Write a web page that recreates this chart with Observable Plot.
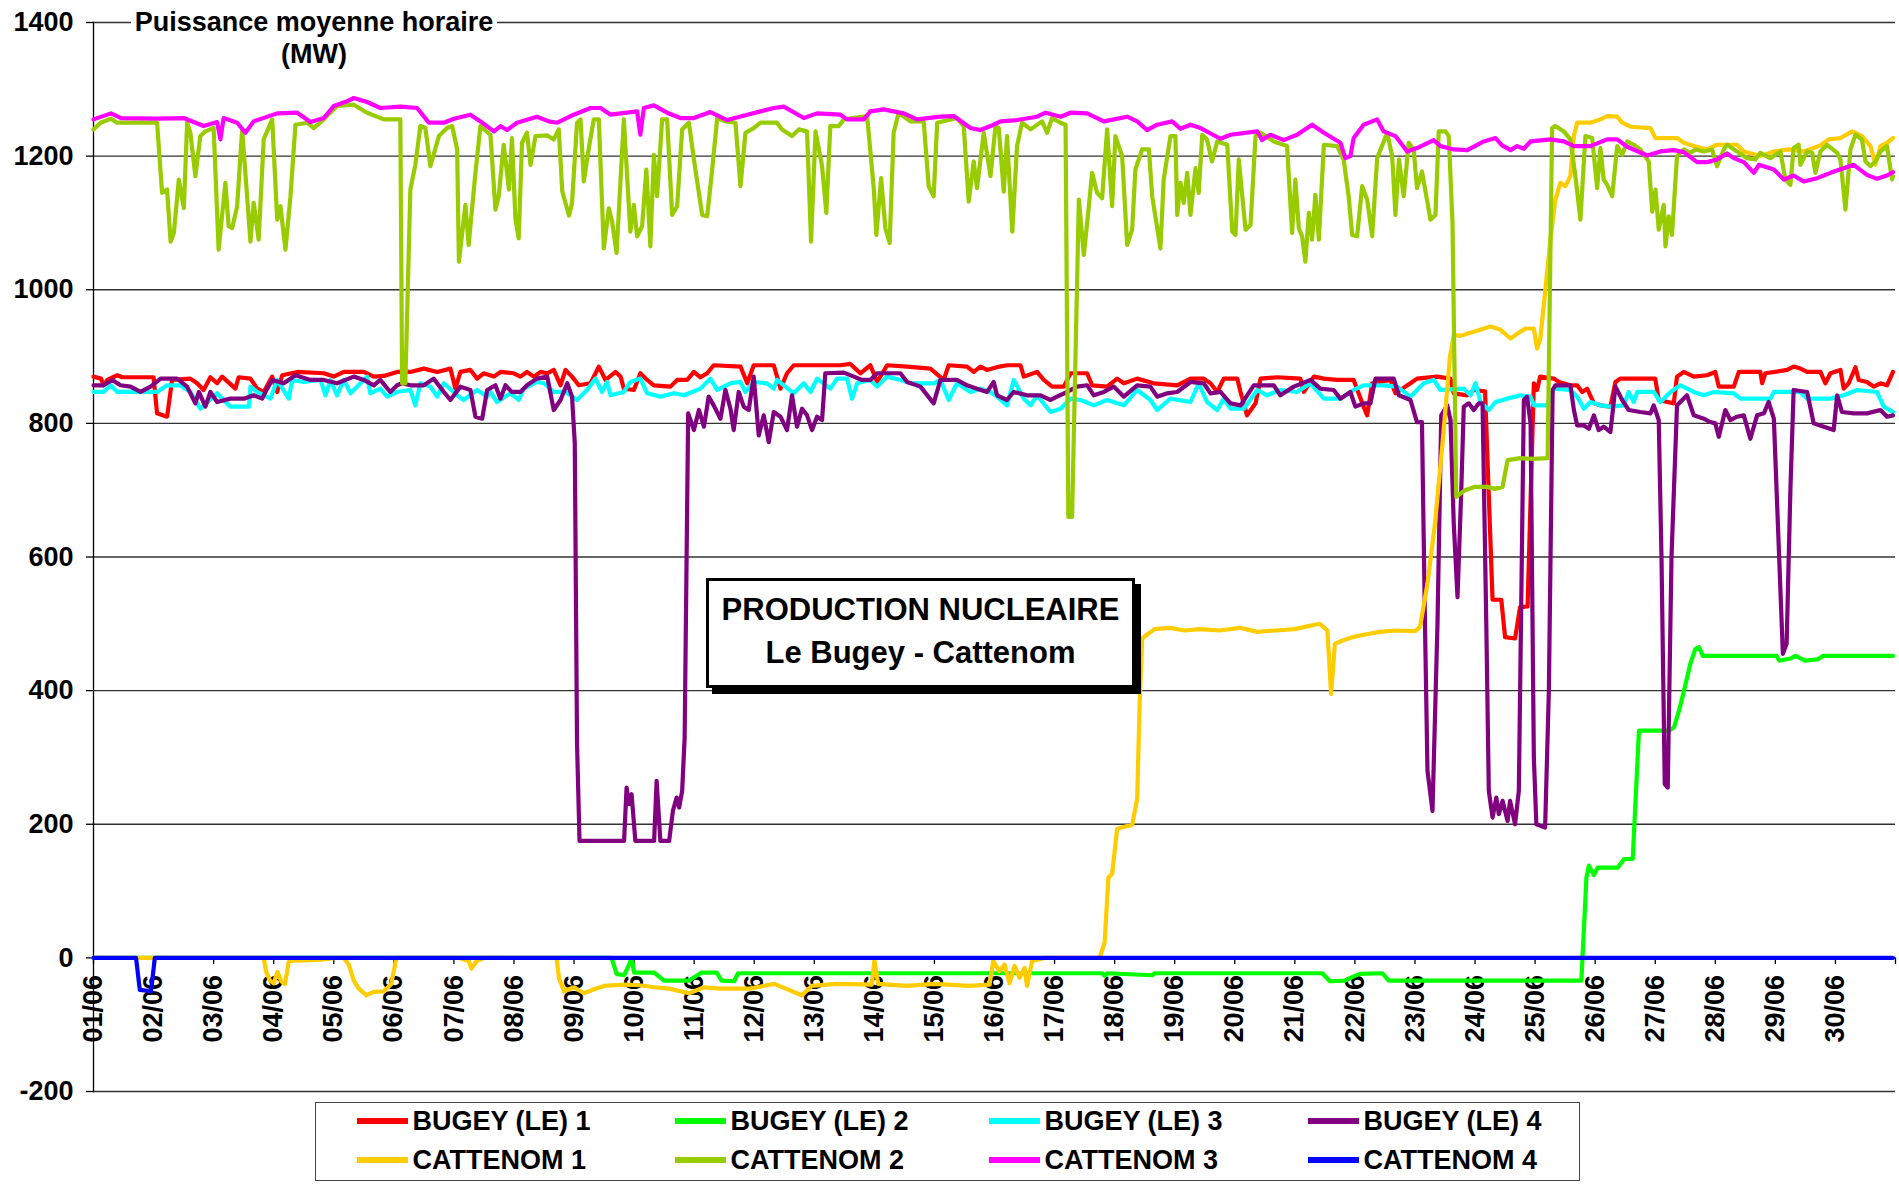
<!DOCTYPE html>
<html>
<head>
<meta charset="utf-8">
<script src="https://cdn.jsdelivr.net/npm/d3@7"></script>
<script src="https://cdn.jsdelivr.net/npm/@observablehq/plot@0.6"></script>
<style>
  html, body { margin: 0; padding: 0; background: #fff; overflow: hidden; }
  #wrap { position: relative; width: 1899px; height: 1187px; font-family: "Liberation Sans", Arial, sans-serif; font-weight: bold; color: #000; }
  #chart { position: absolute; left: 0; top: 0; }
  #title { position: absolute; left: 131px; top: 6px; width: 366px; text-align: center; background: #fff; font-size: 27px; line-height: 32px; }
  #note { position: absolute; left: 706px; top: 578px; width: 429px; height: 110px; box-sizing: border-box; border: 3px solid #000; box-shadow: 6px 6px 0 #000; background: #fff; text-align: center; font-size: 31px; line-height: 43px; padding-top: 7px; }
  #legend { position: absolute; left: 315px; top: 1102px; width: 1265px; height: 79px; box-sizing: border-box; border: 1.5px solid #444; background: #fff; }
  .sw { position: absolute; width: 51px; height: 6px; }
  .lb { position: absolute; font-size: 27px; line-height: 30px; white-space: nowrap; }
</style>
</head>
<body>
<div id="wrap">
  <div id="chart"></div>
  <div id="title">Puissance moyenne horaire<br>(MW)</div>
  <div id="note">PRODUCTION NUCLEAIRE<br>Le Bugey - Cattenom</div>
  <div id="legend"></div>
</div>
<script>
// ---- Data: [hour since 01/06 00:00, MW] ----
const dayLabels = ["01/06","02/06","03/06","04/06","05/06","06/06","07/06","08/06","09/06","10/06","11/06","12/06","13/06","14/06","15/06","16/06","17/06","18/06","19/06","20/06","21/06","22/06","23/06","24/06","25/06","26/06","27/06","28/06","29/06","30/06"];
const yTicks = [-200, 0, 200, 400, 600, 800, 1000, 1200, 1400];

const seriesNames = ["BUGEY (LE) 1","BUGEY (LE) 2","BUGEY (LE) 3","BUGEY (LE) 4","CATTENOM 1","CATTENOM 2","CATTENOM 3","CATTENOM 4"];
const seriesColors = ["#FF0000","#00FF00","#00FFFF","#800080","#FFCC00","#99CC00","#FF00FF","#0000FF"];

const bugey1 = [[0,870],[3,867],[4,857],[5.5,865],[9.5,872],[11.5,869],[24,869],[25.4,815],[29.4,810],[31.4,865],[38.7,867],[41.4,860],[44,850],[46.7,869],[49.4,860],[51.4,870],[56.7,852],[58,869],[62.7,867],[65.4,852],[68,847],[71.4,870],[73.4,847],[75.4,872],[81.4,877],[92,875],[96,870],[100,877],[108,877],[112,870],[116,871],[121.3,877],[126.6,877],[132,882],[137.3,877],[142.6,882],[144.6,852],[146.6,877],[150.6,880],[153.3,867],[155.9,875],[160,870],[162.6,877],[167.9,875],[170.6,870],[173.2,877],[175.9,870],[178.6,877],[181.3,875],[183.9,880],[186.6,857],[188.6,880],[191.2,870],[193.9,857],[198.6,860],[201.9,885],[204.6,865],[208.6,877],[210.6,870],[211.9,852],[215.9,850],[218.5,875],[221.2,865],[223.9,857],[230.5,855],[233.2,865],[237.2,865],[239.9,877],[242.5,869],[245.2,875],[247.8,887],[258.5,885],[261.2,860],[263.8,887],[271.8,887],[274.5,852],[277.1,875],[279.8,887],[298.4,887],[302.4,889],[306.4,875],[310.4,887],[313.1,862],[317.1,887],[325.1,885],[334.4,882],[339.7,865],[341.7,887],[349,885],[351.7,877],[354.4,885],[357,880],[362,885],[365,887],[370.4,887],[371.7,870],[377,877],[379.7,865],[383,855],[387.7,855],[390.4,875],[397,875],[399,857],[405,855],[409,867],[411.7,860],[417,867],[423.6,860],[433,857],[438.3,867],[443.6,867],[446.3,860],[449,847],[451.6,867],[457,867],[458.3,847],[460.9,812],[464.3,830],[466.3,867],[472.9,869],[482.2,867],[483.6,847],[487.6,870],[491.6,867],[496.9,865],[503.5,865],[507.5,825],[508.9,812],[510.9,860],[518.2,865],[520.2,845],[526.2,860],[528.8,867],[536.8,870],[542.2,867],[543.5,845],[548.9,842],[551.5,850],[556,848],[559,536],[562.5,536],[564,480],[568,478],[570,525],[573,526],[575.5,860],[576.8,850],[578,870],[583.5,867],[585.5,862],[590.1,857],[592.8,857],[594.8,847],[596.8,852],[599.5,830],[602.1,827],[606.1,825],[608.1,862],[610.1,867],[624,867],[625.4,835],[631.4,830],[632.7,870],[635.4,877],[639.4,870],[644.7,872],[648,877],[649.4,855],[655.4,855],[657.4,877],[666,877],[666.7,860],[668,875],[676.7,880],[679.3,885],[682,882],[684.7,877],[690,877],[692,860],[694,875],[698,880],[699.3,852],[701.3,860],[704,884],[705.3,865],[708.6,862],[711.3,855],[714,860],[716.6,857],[719,877]];

const bugey2 = [[0,0],[207,0],[209,-24],[212,-26],[214,-10],[215,0],[216,-22],[224,-22],[228,-34],[238,-34],[240,-29],[243,-22],[249,-22],[251,-34],[256,-35],[257.5,-23],[403,-23],[404,-27],[405,-23],[423,-26],[424,-23],[491,-23],[494,-35],[500,-34],[504,-27],[506,-24],[515,-23],[517.5,-34],[594.5,-34],[596.5,120],[597.5,138],[599.5,124],[601,135],[609,135],[611.6,148],[615,148],[617.5,340],[629.5,340],[631.5,345],[633.5,370],[635.5,400],[638,440],[640,462],[641.5,465],[643,452],[672.5,452],[673.5,445],[678,448],[680,452],[684,445],[689,447],[691,452],[719,452]];

const bugey3 = [[0,847],[4,847],[6.8,857],[9.5,847],[25.4,847],[29.4,857],[34.7,857],[38.7,847],[42.7,822],[49.4,845],[54.7,825],[62.1,825],[62.7,855],[65.4,847],[70.7,837],[73.4,865],[78,837],[79.4,865],[84,862],[90.7,865],[92.7,842],[94.7,865],[97.3,842],[100,865],[102.7,845],[109.3,870],[110.6,845],[114.6,852],[117.3,840],[121.3,847],[126.6,850],[128.6,827],[130.6,860],[134.6,855],[137.3,840],[140,860],[145.3,842],[147.9,835],[153.3,850],[157.3,840],[158.6,847],[161.2,832],[166.6,845],[169.9,835],[171.9,852],[177.2,862],[180,860],[183.9,847],[188.6,847],[193.2,835],[197.2,850],[200.6,867],[203.2,847],[205.2,862],[206.6,842],[211.9,847],[214.5,862],[218.5,867],[221.2,845],[226.5,840],[231.9,845],[235.9,842],[242.5,852],[246.5,867],[249.2,850],[254.5,860],[258.5,862],[260.5,847],[263.8,862],[269.1,860],[271.8,852],[273.1,865],[279.8,845],[283.8,860],[286.5,847],[289.1,867],[294.4,852],[297.1,867],[301.1,867],[303.1,837],[305.1,860],[310.4,865],[313.1,855],[317.1,870],[322.4,865],[326.4,860],[335.7,860],[338.4,865],[341.7,835],[345,860],[350.4,847],[354.4,852],[358.4,847],[361,840],[362.5,835],[365,827],[367.7,865],[371.7,837],[374.4,827],[377,842],[382.4,817],[386.4,822],[390.4,837],[394.4,835],[399.7,827],[405,835],[411.7,827],[417,850],[422.3,835],[425,820],[430.3,837],[438.3,832],[441.6,860],[444.9,832],[449,820],[451.6,837],[454.3,822],[459.6,822],[465,850],[468.9,842],[474.2,850],[480.9,847],[486.2,860],[491.6,837],[498.2,837],[503.5,850],[507.5,857],[515.5,857],[520.9,855],[526.2,840],[531.5,860],[535.5,865],[538.2,850],[547.5,852],[550.2,842],[552.2,860],[554.2,832],[557.5,820],[560.2,832],[564.8,837],[570.2,842],[574.2,840],[575.5,827],[580.8,827],[583.5,852],[590.1,850],[592.8,840],[595.5,822],[598.1,832],[602.1,827],[606.1,825],[611.4,827],[613.4,847],[615.4,832],[616.8,847],[623.4,847],[626.1,832],[630.1,847],[634.1,857],[639.4,847],[643.4,842],[647.4,847],[655.4,845],[658.1,837],[670,837],[671.4,847],[682,847],[684.7,837],[694,837],[699.3,842],[704.7,850],[712.6,847],[715.3,825],[719,817]];

const bugey4 = [[0,857],[4,857],[7.5,865],[10.8,857],[14.8,855],[18.8,847],[22.8,855],[26.8,867],[33.4,867],[37.4,855],[40.7,830],[42.1,847],[44.7,825],[46.7,847],[49.4,832],[54.7,837],[60.1,837],[64,842],[67.4,837],[69.4,852],[71.4,865],[76,860],[80.7,872],[86.7,865],[92,865],[97.3,860],[104,870],[108,865],[112,857],[114.6,865],[118.6,847],[121.3,857],[123.3,860],[126.6,857],[132,857],[135.9,867],[140,847],[142.6,835],[146.6,855],[150.6,850],[152.6,810],[155.3,807],[157.3,850],[160.6,857],[162.6,837],[164.6,857],[167.2,847],[170.6,847],[173.2,857],[177.2,867],[181.3,870],[183.9,820],[186.6,835],[189.3,860],[191.2,840],[192.3,770],[193.2,320],[194.2,175],[212,175],[213,255],[214,230],[215,245],[216.5,175],[224,175],[225,265],[226.5,175],[230,175],[231.5,220],[233,240],[234,225],[235.2,250],[236.2,330],[237.6,815],[239.9,790],[241.9,820],[243.9,795],[245.8,840],[247.8,827],[250.5,807],[252.5,850],[254.5,822],[255.8,790],[257.8,847],[259.8,825],[261.8,820],[263.8,870],[265.8,782],[267.8,812],[269.8,772],[271.8,817],[274.5,810],[277.1,790],[279.1,842],[281.1,795],[283.1,822],[285.1,812],[287.1,790],[289.1,810],[291.1,805],[292.4,875],[299.8,876],[303.8,870],[307.1,865],[310.4,865],[313.1,875],[322.4,875],[325.1,862],[330.4,855],[335.7,830],[338.4,865],[345,865],[349,857],[353,852],[357,847],[359.7,862],[361,842],[365,835],[367.7,847],[373,842],[378.4,842],[382.4,835],[385,840],[389,847],[393,855],[397,857],[399.7,842],[403.7,847],[407.7,855],[411.7,840],[417,857],[422.3,855],[425,840],[429,845],[433,847],[438.3,862],[443.6,860],[446.3,845],[450.3,847],[454.3,830],[458.3,827],[463.6,857],[471.6,857],[474.2,842],[479.6,855],[486.2,865],[490.2,852],[495.5,850],[498.2,837],[502.2,847],[504.2,825],[507.5,830],[510.2,830],[512.2,867],[519.5,867],[521.6,842],[526.2,835],[528.8,802],[530.8,802],[532,500],[533,280],[535,220],[537,500],[538.5,812],[540.9,827],[542.2,805],[543.5,650],[545,540],[546.5,700],[547.5,825],[549.5,830],[551.5,820],[553.5,830],[555,830],[556.5,500],[557.5,250],[559,210],[560.5,240],[561.5,215],[563,235],[565,205],[566,235],[568,200],[569.5,250],[571.5,835],[572.8,840],[574.2,800],[575.5,300],[576.5,200],[580,195],[581.5,400],[583,850],[584.1,857],[590.1,857],[591.5,820],[592.8,797],[595.5,797],[597.5,792],[599.5,812],[601.4,790],[603.4,795],[606.1,787],[608.1,855],[610.8,835],[613.4,820],[618.1,817],[622.1,815],[623.4,827],[625.4,805],[626.5,600],[627.8,260],[629,255],[630.5,600],[632.7,827],[636.7,842],[639.4,812],[643.4,807],[646,802],[648,800],[649.4,780],[652,820],[654,805],[656.7,810],[659.4,812],[662,777],[664.7,812],[667.4,815],[669.3,832],[671.4,807],[673,650],[675,455],[676.5,470],[678,700],[679.3,850],[684.7,847],[687.3,800],[691.4,795],[695.3,790],[696.7,842],[698.6,817],[703.3,815],[708.6,815],[714,820],[716.6,810],[719,812]];

const cattenom1 = [[0,0],[68,0],[69,-21],[70.5,-34],[72,-38],[73.5,-21],[75,-35],[76.5,-39],[78,-6],[80,-4],[90,-3],[97,0],[100,0],[102,-10],[104,-34],[106,-46],[109,-56],[112,-51],[116,-50],[119,-39],[121,0],[146,0],[150,-5],[151,-16],[153,-5],[156,0],[185,0],[186,-30],[188,-50],[192,-44],[196,-53],[200,-47],[204,-42],[212,-40],[218,-41],[224,-44],[230,-46],[238,-53],[244,-44],[250,-46],[262,-46],[272,-39],[283,-56],[287,-42],[297,-39],[311,-40],[312,-4],[313.5,-39],[325,-42],[336,-39],[350,-42],[358,-40],[359.5,-5],[362,-20],[364,-10],[366,-38],[368,-12],[370,-30],[372,-15],[373,-42],[375,-5],[378,-2],[380,0],[402,0],[404,23],[405.5,120],[407,126],[409,193],[411.5,196],[415,199],[417,238],[418,380],[419,478],[421,484],[424,492],[430,494],[436,490],[442,492],[450,490],[458,494],[465,488],[472,490],[480,492],[486,497],[490,500],[493,490],[494.5,395],[496,470],[499,475],[503,480],[508,484],[514,488],[520,490],[528,489],[530,495],[533,560],[536,650],[539,770],[542,900],[543.5,932],[546.2,931],[551.5,937],[558.2,945],[562.2,940],[566.2,927],[568.8,934],[572.2,942],[575.5,942],[576.8,912],[578.1,927],[580.1,1000],[582.1,1075],[584.1,1135],[586.1,1160],[588.1,1155],[590.1,1170],[591.5,1230],[592.8,1250],[598.1,1250],[602.1,1255],[604.8,1260],[608.8,1259],[610.8,1250],[614.1,1244],[622.1,1242],[624.1,1227],[632.7,1227],[635.4,1220],[639.4,1215],[644.7,1210],[648.7,1217],[656.7,1217],[659.4,1207],[666,1200],[671.4,1207],[677.3,1210],[683.3,1207],[690,1216],[693.3,1225],[698,1227],[702.7,1237],[706.6,1230],[710,1215],[712,1187],[714,1215],[716.6,1220],[719,1227]];

const cattenom2 = [[0,1240],[2.8,1250],[7,1256],[9.5,1250],[25.4,1250],[27.4,1145],[29.4,1150],[30.8,1072],[32.1,1085],[34.1,1165],[36.1,1122],[37.4,1250],[38.7,1235],[40.7,1170],[42.7,1230],[44.7,1237],[48,1242],[50,1060],[52.7,1160],[54,1095],[55.4,1092],[57.4,1125],[59.4,1240],[62.7,1072],[64,1130],[66,1075],[68,1225],[71.4,1255],[73.4,1105],[74.7,1125],[76.7,1060],[78.7,1140],[80.7,1247],[85.4,1250],[88,1242],[92,1255],[97.3,1275],[104,1277],[109.3,1265],[116,1255],[122.6,1255],[123.3,860],[124.6,860],[126.6,1150],[128.6,1187],[130.6,1245],[132.6,1242],[134.6,1185],[138,1230],[141.3,1242],[143.3,1245],[145.3,1210],[146,1042],[148.6,1127],[149.9,1067],[152.6,1175],[154.6,1245],[158.6,1232],[160.6,1120],[161.9,1140],[163.9,1217],[166,1150],[167.2,1227],[168.6,1105],[169.9,1077],[171.2,1220],[173.2,1235],[174.6,1187],[176.6,1230],[181.3,1231],[183.9,1225],[185.9,1240],[187.3,1147],[190,1111],[191.2,1130],[193.2,1250],[194.6,1255],[195.9,1162],[197.9,1212],[199.9,1255],[201.9,1255],[203.9,1062],[205.9,1122],[207.2,1102],[209,1055],[211.9,1255],[214.5,1087],[215.9,1127],[217.2,1080],[219.2,1095],[220.9,1180],[222.5,1065],[223.9,1202],[225.2,1140],[227.2,1255],[229.2,1255],[231.2,1112],[233.2,1125],[235.2,1240],[237.9,1250],[239.9,1195],[243.2,1112],[245.2,1110],[247.2,1180],[249.2,1257],[252.5,1252],[256.5,1250],[258.5,1155],[260.5,1235],[263.8,1242],[266.5,1250],[273.1,1250],[275.1,1240],[279.1,1230],[281.8,1240],[285.1,1237],[286.7,1072],[288.5,1237],[291.1,1185],[292.8,1115],[294.4,1245],[297.8,1245],[299.8,1255],[309.1,1260],[311.8,1150],[312.8,1082],[314.7,1167],[316.4,1092],[318.1,1070],[319.7,1235],[321.7,1265],[326.4,1252],[331.7,1252],[333.7,1155],[335.7,1140],[337.1,1250],[345,1257],[347.7,1245],[349.7,1132],[351.7,1192],[353,1152],[355.7,1235],[358.4,1170],[360.4,1245],[361.7,1242],[363.7,1147],[365,1230],[367.1,1087],[369,1215],[371,1250],[374.4,1240],[379,1252],[381,1235],[383,1257],[386.4,1250],[388.4,1247],[389.5,660],[391,660],[393.7,1135],[395.7,1052],[397.7,1125],[399,1175],[401,1145],[403,1137],[405,1240],[407,1125],[408.3,1230],[411,1200],[413,1067],[415,1090],[416.3,1180],[419,1210],[421.7,1210],[423,1140],[426.3,1062],[427.6,1165],[430.3,1230],[432.3,1230],[433,1112],[434.3,1160],[435.6,1130],[437,1175],[438.3,1112],[440.3,1182],[441.6,1145],[443,1232],[444.9,1225],[446.9,1192],[449,1222],[453,1217],[455,1087],[456.3,1082],[457.6,1195],[460.3,1090],[462.3,1097],[464.3,1230],[466.3,1235],[471.6,1222],[476.9,1215],[478.9,1085],[480.2,1165],[481.6,1092],[482.9,1080],[484.2,1042],[485.6,1115],[486.9,1075],[488.2,1142],[489.6,1075],[491.6,1217],[496.9,1215],[499.5,1195],[501.5,1140],[502.9,1082],[504.9,1080],[506.9,1155],[508.9,1135],[510.9,1080],[512.9,1197],[516.9,1235],[518.9,1200],[520.2,1112],[521.6,1195],[523.5,1140],[525.5,1220],[527.5,1210],[528.8,1152],[530.8,1177],[534.2,1105],[536.2,1112],[537.5,1237],[540.2,1237],[541.5,1230],[543,1100],[544.5,690],[548,700],[552,705],[557,705],[560,702],[563,705],[565,745],[570,748],[575,747],[581,748],[582.8,1242],[584.1,1245],[587.5,1237],[590.1,1225],[592.1,1170],[594.1,1105],[596.1,1230],[598.8,1227],[600.8,1152],[602.1,1212],[603.4,1165],[604.8,1157],[606.8,1140],[608.8,1215],[610.8,1202],[612.8,1222],[615.4,1217],[618.1,1210],[621.4,1192],[622.8,1117],[624.1,1150],[625.4,1090],[627.4,1127],[628.1,1065],[629.4,1110],[630.7,1082],[632.7,1200],[635.4,1210],[638.1,1205],[640.1,1210],[643.4,1207],[646.7,1210],[648.7,1185],[651.4,1210],[652.7,1217],[656.7,1207],[660.7,1197],[664,1195],[666,1205],[670,1197],[674,1207],[676,1165],[678,1157],[679.3,1212],[681.3,1217],[682,1187],[684.7,1207],[686.7,1205],[688,1175],[690,1207],[692.7,1217],[696.7,1205],[698,1195],[700,1120],[702,1210],[704,1232],[706.6,1225],[708,1192],[710,1185],[712,1192],[714,1207],[716.6,1215],[718.6,1165],[719,1170]];

const cattenom3 = [[0,1255],[7,1264],[11,1257],[25.4,1256],[36,1257],[44,1245],[49.4,1251],[50.7,1225],[52,1257],[57.4,1250],[60.7,1235],[64,1252],[73.4,1264],[81.4,1265],[86.7,1251],[92,1257],[96,1275],[101.3,1282],[104,1287],[109.3,1281],[114.6,1272],[122.6,1274],[129.3,1272],[134,1250],[140,1250],[144,1256],[150.6,1262],[154.6,1252],[160,1237],[162.6,1245],[165.2,1239],[169.2,1250],[177.2,1259],[181.9,1252],[185.3,1250],[191.9,1262],[198.6,1272],[202.6,1272],[206.6,1262],[217.2,1267],[218.5,1232],[219.9,1272],[223.9,1276],[229.2,1265],[234.5,1257],[239.9,1257],[246.5,1266],[253.2,1254],[261.2,1262],[271.8,1272],[275.8,1274],[283.8,1257],[289.1,1264],[298.4,1262],[301.1,1255],[307.8,1255],[310.4,1267],[315.7,1270],[323.7,1264],[329,1255],[338.4,1259],[343.7,1260],[350.4,1242],[354.4,1239],[358.4,1245],[362.4,1252],[369,1254],[377,1259],[380.4,1265],[386.4,1259],[390.4,1265],[397,1264],[403.7,1252],[413,1259],[417,1252],[421,1239],[425,1247],[431,1252],[434.3,1241],[438.3,1247],[442.3,1242],[450.3,1226],[454.3,1232],[465,1237],[466.9,1224],[470.2,1232],[475.6,1224],[480.9,1232],[486.9,1247],[491.6,1235],[498.2,1220],[500.2,1197],[502.2,1200],[503.5,1227],[507.5,1247],[512.9,1255],[515.5,1237],[520.2,1230],[524.9,1207],[528.8,1212],[535.5,1224],[538.2,1215],[543.5,1210],[548.9,1209],[555.5,1222],[560.2,1227],[562.8,1216],[566.2,1209],[568.8,1215],[571.5,1211],[574.2,1222],[582.1,1225],[587.5,1222],[591.5,1215],[598.1,1215],[604.8,1225],[608.8,1225],[612.8,1214],[620.8,1201],[626.1,1207],[631.4,1209],[635.4,1206],[640.7,1191],[644.7,1191],[648.7,1195],[652.7,1204],[655.4,1197],[659.4,1191],[663.4,1175],[665.4,1187],[671.4,1180],[675.4,1165],[679.3,1171],[683.3,1162],[688.7,1167],[694,1175],[703.3,1187],[708.6,1172],[712.6,1166],[716.6,1171],[719,1176]];

const cattenom4 = [[0,0],[17,0],[18.5,-48],[23,-50],[24.5,0],[719,0]];

const seriesData = [bugey1, bugey2, bugey3, bugey4, cattenom1, cattenom2, cattenom3, cattenom4];

// ---- Chart ----
const hoursPerDay = 24;
const dayTicks = d3.range(0, dayLabels.length + 1).map(i => i * hoursPerDay);
const labelRows = dayLabels.map((t, i) => ({t, h: i * hoursPerDay}));

const lineMarks = seriesData.map((data, i) =>
  Plot.line(data, {x: d => d[0], y: d => d[1], stroke: seriesColors[i], strokeWidth: 4.2, strokeLinejoin: "round"})
);

const chart = Plot.plot({
  width: 1899,
  height: 1100,
  marginLeft: 93,
  marginRight: 4,
  marginTop: 22,
  marginBottom: 9,
  style: {fontFamily: "'Liberation Sans', Arial, sans-serif", fontWeight: "bold", fontSize: "27px", color: "#000", background: "transparent", overflow: "visible"},
  x: {domain: [0, dayLabels.length * hoursPerDay], axis: null},
  y: {domain: [-200, 1400], axis: null},
  marks: [
    Plot.gridY(yTicks, {stroke: "#333", strokeOpacity: 1, strokeWidth: 1.3}),
    Plot.axisY(yTicks, {tickSize: 7, tickPadding: 13, fontSize: 27, fontWeight: "bold", label: null, stroke: "#000", strokeWidth: 1.3, tickFormat: d => String(d)}),
    Plot.frame({anchor: "left", stroke: "#000", strokeWidth: 1.3}),
    Plot.ruleY([0], {stroke: "#000", strokeWidth: 1.3}),
    Plot.ruleX(dayTicks, {x: d => d, y1: 0, y2: -10, stroke: "#000", strokeWidth: 1.3}),
    Plot.text(labelRows, {x: "h", y: 0, text: "t", rotate: -90, textAnchor: "end", dy: 17, fontSize: 27, fontWeight: "bold", fill: "#000"}),
    ...lineMarks
  ]
});
document.getElementById("chart").appendChild(chart);

// ---- Legend (HTML, below the plot) ----
const legend = document.getElementById("legend");
const colX = [357, 675, 989, 1308];
const rowY = [1121, 1160];
const legendLeft = 315, legendTop = 1102;
seriesNames.forEach((name, i) => {
  const col = i % 4, row = Math.floor(i / 4);
  const sw = document.createElement("div");
  sw.className = "sw";
  sw.style.background = seriesColors[i];
  sw.style.left = (colX[col] - legendLeft - 1.5) + "px";
  sw.style.top = (rowY[row] - legendTop - 3 - 1.5) + "px";
  legend.appendChild(sw);
  const lb = document.createElement("div");
  lb.className = "lb";
  lb.textContent = name;
  lb.style.left = (colX[col] + 56 - legendLeft - 1.5) + "px";
  lb.style.top = (rowY[row] - legendTop - 15 - 1.5) + "px";
  legend.appendChild(lb);
});
</script>
</body>
</html>
